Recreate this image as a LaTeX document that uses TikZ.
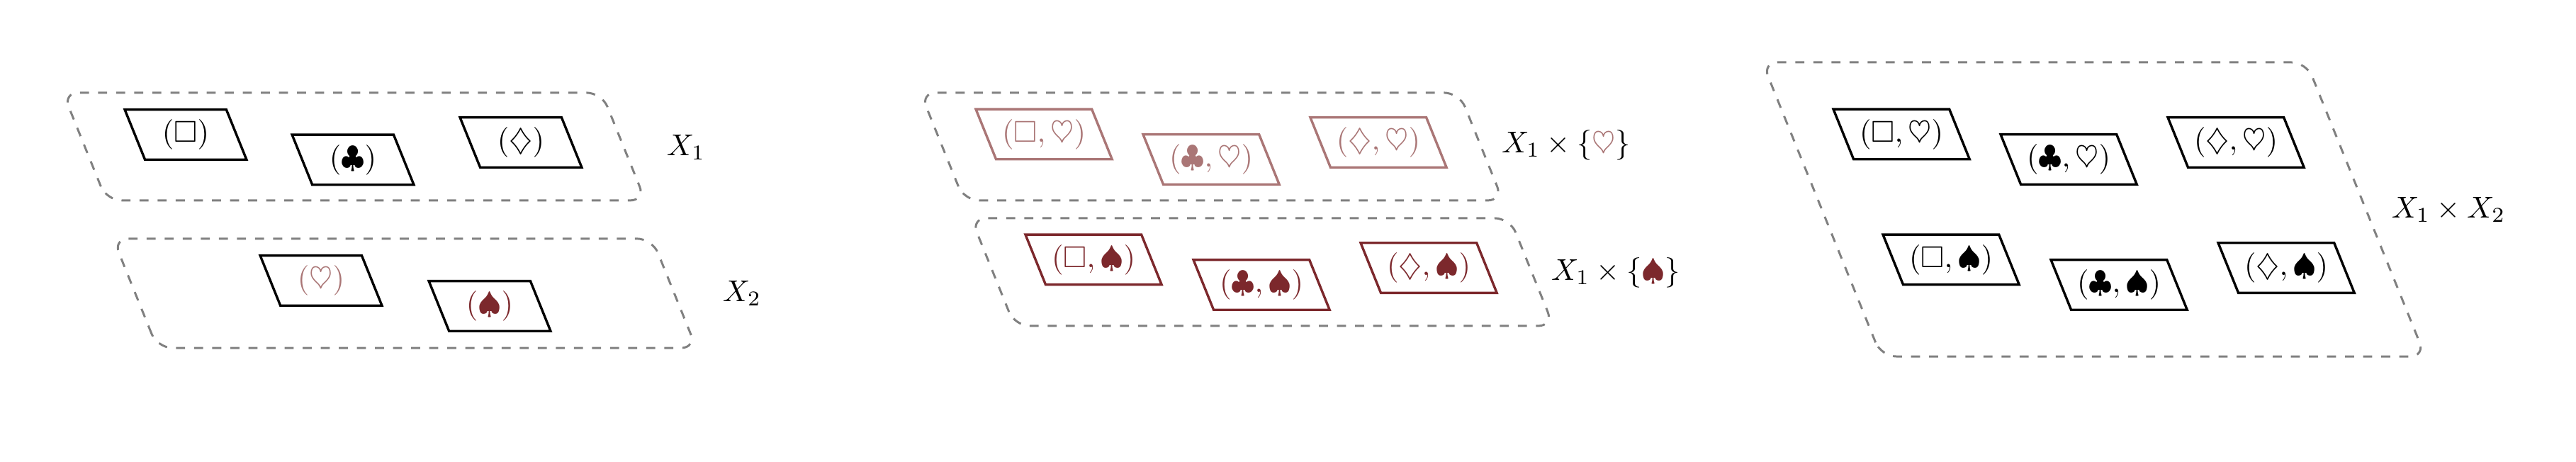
\documentclass[tikz,border=0pt]{standalone}
\usepackage{amsmath}
\usepackage{amssymb}
\usepackage{xcolor}
\usetikzlibrary{shapes,positioning}

\definecolor{heartcol}{RGB}{170,118,118}
\definecolor{spadecol}{RGB}{124,40,44}
\definecolor{setgray}{RGB}{128,128,128}

\tikzset{
  card/.style={draw,line width=0.8pt,trapezium,trapezium left angle=112,trapezium right angle=68,
    trapezium stretches body,minimum width=1.42cm,text height=7.5pt,text depth=2.5pt,
    inner ysep=3.3pt,inner xsep=2pt},
  region/.style={draw=setgray,dashed,line width=0.7pt,rounded corners=5pt,trapezium,
    trapezium left angle=112,trapezium right angle=68,trapezium stretches body,inner xsep=0pt},
}

\begin{document}
\begin{tikzpicture}
\useasboundingbox (0,0) rectangle (30.04,5.388);

% X_1 and X_2
\node[region,minimum width=6.79cm,inner ysep=0.628cm] (X1) at (4.13,3.678) {};
\node[region,minimum width=6.80cm,inner ysep=0.637cm] (X2) at (4.72,1.967) {};
\node[card] (sq) at (2.165,3.818) {$(\square)$};
\node[card] (cl) at (4.116,3.525) {$(\clubsuit)$};
\node[card] (di) at (6.074,3.727) {$(\diamondsuit)$};
\node[card,text=heartcol] (he) at (3.744,2.116) {$(\heartsuit)$};
\node[card,text=spadecol] (sp) at (5.711,1.818) {$(\spadesuit)$};
\node (lx1) at (8.0,3.669) {$X_1$};
\node (lx2) at (8.653,1.967) {$X_2$};

% X_1 x {heart} and X_1 x {spade}
\node[region,minimum width=6.79cm,inner ysep=0.628cm] (X1h) at (14.13,3.678) {};
\node[region,minimum width=6.79cm,inner ysep=0.628cm] (X1s) at (14.72,2.215) {};
\node[card,draw=heartcol,text=heartcol] (sqh) at (12.174,3.822) {$(\square,\heartsuit)$};
\node[card,draw=heartcol,text=heartcol] (clh) at (14.124,3.529) {$(\clubsuit,\heartsuit)$};
\node[card,draw=heartcol,text=heartcol] (dih) at (16.074,3.727) {$(\diamondsuit,\heartsuit)$};
\node[card,draw=spadecol,text=spadecol] (sqs) at (12.752,2.360) {$(\square,\spadesuit)$};
\node[card,draw=spadecol,text=spadecol] (cls) at (14.711,2.066) {$(\clubsuit,\spadesuit)$};
\node[card,draw=spadecol,text=spadecol] (dis) at (16.661,2.264) {$(\diamondsuit,\spadesuit)$};
\node (lx1h) at (18.264,3.694) {$X_1\times\{\textcolor{heartcol}{\heartsuit}\}$};
\node (lx1s) at (18.843,2.207) {$X_1\times\{\textcolor{spadecol}{\spadesuit}\}$};

% X_1 x X_2
\node[region,minimum width=7.73cm,inner ysep=1.715cm] (X12) at (24.417,2.946) {};
\node[card] (psqh) at (22.174,3.822) {$(\square,\heartsuit)$};
\node[card] (pclh) at (24.124,3.529) {$(\clubsuit,\heartsuit)$};
\node[card] (pdih) at (26.074,3.727) {$(\diamondsuit,\heartsuit)$};
\node[card] (psqs) at (22.752,2.360) {$(\square,\spadesuit)$};
\node[card] (pcls) at (24.711,2.066) {$(\clubsuit,\spadesuit)$};
\node[card] (pdis) at (26.661,2.264) {$(\diamondsuit,\spadesuit)$};
\node (lx12) at (28.554,2.942) {$X_1\times X_2$};
\end{tikzpicture}
\end{document}
